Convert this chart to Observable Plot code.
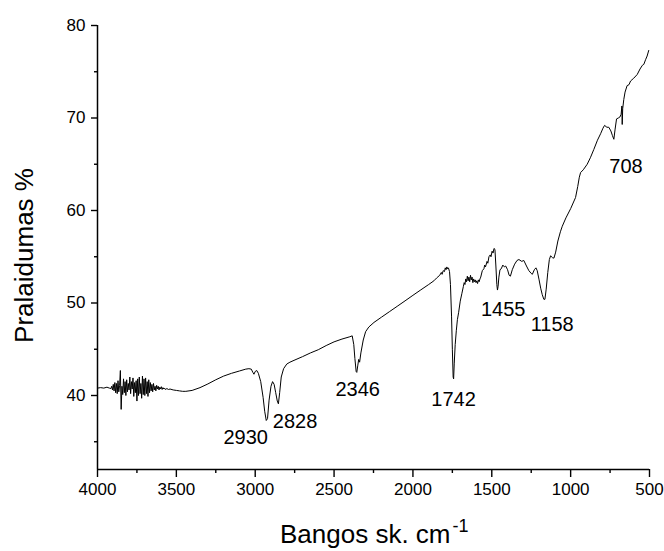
<!DOCTYPE html>
<html><head><meta charset="utf-8">
<script src="https://cdn.jsdelivr.net/npm/d3@7"></script>
<script src="https://cdn.jsdelivr.net/npm/@observablehq/plot@0.6"></script>
<style>body{margin:0;background:#fff}</style>
</head><body><div id="chart"></div>
<script>
// FTIR spectrum: [wavenumber cm-1, transmittance %]
const spectrum = [
[4000,40.8],[3980,40.85],[3960,40.8],[3940,40.9],[3925,40.8],[3915,40.75],
[3910,41.0],[3905,40.6],[3900,41.2],[3895,40.5],[3890,41.4],[3885,40.3],[3880,41.3],[3875,40.2],
[3870,41.6],[3865,40.4],[3860,41.1],[3855,42.7],[3850,38.5],[3845,41.0],[3840,40.1],[3835,41.8],
[3830,40.3],[3825,41.5],[3820,40.0],[3815,41.7],[3810,40.4],[3805,41.3],[3800,40.6],[3795,42.0],
[3790,40.2],[3785,41.5],[3780,40.7],[3775,41.9],[3770,39.9],[3765,41.4],[3760,40.3],[3755,41.6],
[3750,39.4],[3745,41.8],[3740,40.0],[3735,42.0],[3730,40.2],[3725,41.3],[3720,39.7],[3715,42.1],
[3710,40.1],[3705,41.8],[3700,40.0],[3695,41.9],[3690,40.2],[3685,41.5],[3680,39.9],[3675,41.7],
[3670,40.3],[3665,41.4],[3660,40.5],[3655,41.2],[3650,40.4],[3645,41.3],[3640,40.6],[3635,41.0],
[3630,40.5],[3625,41.1],[3620,40.7],[3615,41.0],[3610,40.6],[3605,40.9],[3600,40.7],[3595,40.95],
[3590,40.65],[3585,40.85],[3580,40.7],[3575,40.8],[3570,40.65],[3560,40.75],[3550,40.65],[3540,40.7],
[3520,40.6],[3500,40.55],[3480,40.5],[3460,40.45],[3440,40.45],[3400,40.55],[3350,40.85],[3300,41.25],
[3250,41.7],[3200,42.1],[3150,42.4],[3100,42.65],[3060,42.85],[3040,42.9],[3025,42.85],[3015,42.5],
[3008,42.3],[3000,42.6],[2990,42.7],[2980,42.4],[2965,41.5],[2950,39.8],[2940,38.3],[2930,37.3],
[2922,37.5],[2912,39.5],[2900,41.0],[2890,41.5],[2880,41.2],[2870,40.3],[2860,39.4],[2853,39.1],
[2845,40.3],[2835,42.0],[2820,42.9],[2800,43.4],[2780,43.6],[2754,43.8],[2700,44.2],[2650,44.6],
[2600,44.95],[2550,45.4],[2500,45.8],[2450,46.1],[2400,46.35],[2385,46.45],[2375,45.5],[2368,44.0],
[2360,42.6],[2356,42.5],[2350,43.2],[2344,43.9],[2338,43.6],[2330,44.6],[2315,46.0],[2300,46.9],
[2280,47.4],[2247,47.9],[2200,48.46],[2150,49.05],[2100,49.64],[2050,50.23],[2000,50.83],[1950,51.42],
[1900,52.0],[1867,52.4],[1850,52.7],[1830,53.0],[1820,53.3],[1815,53.1],[1808,53.5],[1800,53.4],
[1795,53.8],[1790,53.6],[1785,53.9],[1780,53.7],[1775,53.8],[1768,53.4],[1762,52.0],[1755,48.5],
[1750,45.0],[1745,42.0],[1742,41.8],[1738,43.5],[1732,45.5],[1725,47.0],[1718,48.2],[1710,49.0],
[1700,50.2],[1690,51.0],[1680,51.8],[1675,52.2],[1670,52.0],[1665,52.6],[1660,52.3],[1655,52.9],
[1650,52.4],[1645,52.8],[1640,52.3],[1635,53.0],[1630,52.5],[1625,52.8],[1620,52.2],[1615,52.6],
[1610,52.3],[1605,52.5],[1600,52.2],[1595,52.4],[1590,52.1],[1585,52.5],[1580,52.3],[1575,52.6],
[1570,52.8],[1560,53.5],[1550,53.7],[1545,54.1],[1540,53.9],[1530,54.5],[1525,54.3],[1518,55.0],
[1510,55.2],[1505,55.0],[1498,55.6],[1492,55.4],[1486,55.9],[1480,55.8],[1474,54.0],[1468,52.0],
[1464,51.4],[1460,51.8],[1455,52.8],[1448,53.6],[1440,53.7],[1430,54.1],[1420,53.9],[1412,54.0],
[1400,53.6],[1390,53.0],[1382,52.9],[1370,53.6],[1355,54.2],[1340,54.6],[1328,54.7],[1310,54.5],
[1297,54.6],[1280,54.0],[1265,53.5],[1250,53.2],[1243,53.1],[1230,53.6],[1220,53.8],[1212,53.5],
[1200,52.5],[1190,51.6],[1180,50.9],[1170,50.4],[1163,50.4],[1155,51.5],[1145,53.3],[1135,54.7],
[1127,55.1],[1115,54.9],[1106,54.85],[1095,55.5],[1081,56.7],[1065,57.7],[1053,58.3],[1030,59.2],
[1000,60.2],[969,61.4],[955,62.6],[945,63.6],[937,64.1],[920,64.4],[895,65.0],[875,65.7],
[853,66.6],[830,67.6],[810,68.3],[795,68.9],[785,69.2],[770,69.0],[758,69.0],[745,68.6],
[735,68.1],[726,67.7],[718,68.8],[709,69.9],[698,70.0],[688,70.1],[680,70.4],[675,71.3],
[673,69.3],[670,71.0],[663,72.0],[655,72.8],[642,73.5],[630,73.6],[620,74.0],[600,74.3],
[578,74.7],[560,75.3],[545,75.7],[536,75.8],[525,76.3],[515,76.7],[505,77.3]
];

const peakLabels = ["2930","2828","2346","1742","1455","1158","708"];
const peakLabelX = [3060,2747,2350,1742,1428,1117,649];
const peakLabelY = [35.4,37.2,40.6,39.6,49.3,47.7,64.7];

const xTicks = [4000,3500,3000,2500,2000,1500,1000,500];
const xMinorTicks = [3750,3250,2750,2250,1750,1250,750];
const yTicks = [40,50,60,70,80];
const yMinorTicks = [35,45,55,65,75];

const xTitle = "Bangos sk. cm";
const xTitleSup = "-1";
const yTitle = "Pralaidumas %";

const data = spectrum.map(([w, t]) => ({w, t}));
const labels = peakLabels.map((s, i) => ({s, x: peakLabelX[i], y: peakLabelY[i]}));

const chart = Plot.plot({
  width: 664,
  height: 551,
  marginLeft: 97,
  marginRight: 15,
  marginTop: 25,
  marginBottom: 82,
  style: {fontFamily: "'Liberation Sans', Arial, sans-serif", fontSize: "17px", color: "#000", background: "#fff", overflow: "visible"},
  x: {domain: [4000, 500]},
  y: {domain: [32, 80]},
  marks: [
    Plot.axisX({ticks: xTicks, tickSize: 8, tickPadding: 5, tickFormat: d3.format("d"), label: null, strokeWidth: 1.4, fontSize: 17}),
    Plot.axisX({ticks: xMinorTicks, tickSize: 4, tickFormat: () => "", label: null, strokeWidth: 1.4}),
    Plot.axisY({ticks: yTicks, tickSize: 6, tickPadding: 6, tickFormat: d3.format("d"), label: null, strokeWidth: 1.4, fontSize: 17}),
    Plot.axisY({ticks: yMinorTicks, tickSize: 3, tickFormat: () => "", label: null, strokeWidth: 1.4}),
    Plot.ruleX([4000], {y1: 32, y2: 80, strokeWidth: 1.5}),
    Plot.ruleY([32], {x1: 4000, x2: 500, strokeWidth: 1.5}),
    Plot.line(data, {x: "w", y: "t", stroke: "#000", strokeWidth: 1}),
    Plot.text(labels, {x: "x", y: "y", text: "s", fontSize: 20, textAnchor: "middle", lineAnchor: "middle"}),
    Plot.text([yTitle], {text: d => d, frameAnchor: "left", dx: -73, dy: 8, rotate: -90, fontSize: 26, textAnchor: "middle", lineAnchor: "middle"}),
    Plot.text([xTitle], {text: d => d, frameAnchor: "bottom", dx: 77, dy: 65, fontSize: 26, textAnchor: "end", lineAnchor: "middle"}),
    Plot.text([xTitleSup], {text: d => d, frameAnchor: "bottom", dx: 79, dy: 57, fontSize: 18, textAnchor: "start", lineAnchor: "middle"})
  ]
});
document.getElementById("chart").appendChild(chart);
</script>
</body></html>
